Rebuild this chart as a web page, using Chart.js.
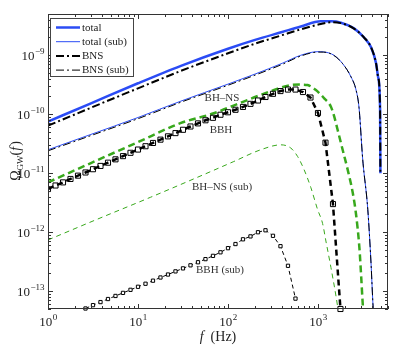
<!DOCTYPE html>
<html>
<head>
<meta charset="utf-8">
<title>Omega_GW background spectrum</title>
<script src="https://cdn.jsdelivr.net/npm/chart.js@4.4.1/dist/chart.umd.min.js"></script>
<style>
  html, body { margin: 0; padding: 0; background: #fff; }
  #wrap { width: 399px; height: 346px; }
</style>
</head>
<body>
<div id="wrap"><canvas id="gw" width="399" height="346"></canvas></div>
<script>
/* =====================================================
   Omega_GW(f) — compact binary background, log-log
   ===================================================== */

// ─── DATA ────────────────────────────────────────────
const totalF     = [1, 3, 10, 30, 100, 200, 400, 645, 1077, 1400, 1800, 2513, 3250, 3890, 4420, 4654, 4900, 4940];
const totalOmega = [7.5e-11, 1.53e-10, 3.35e-10, 6.62e-10, 1.29e-9, 1.82e-9, 2.48e-9, 3.07e-9, 3.75e-9, 3.75e-9, 3.55e-9, 2.85e-9, 2.0e-9, 1.36e-9, 7.3e-10, 4.3e-10, 1.2e-10, 1.0e-11];
const bnsOmega   = [6.4e-11, 1.29e-10, 2.75e-10, 5.43e-10, 1.08e-9, 1.57e-9, 2.19e-9, 2.75e-9, 3.39e-9, 3.63e-9, 3.5e-9, 2.83e-9, 2.0e-9, 1.36e-9, 7.3e-10, 4.3e-10, 1.2e-10, 1.0e-11];

const subF          = [1, 3, 10, 30, 100, 200, 400, 645, 1000, 1150, 1504, 1880, 2328, 2650, 2858, 3143, 3576, 3890, 4070, 4150];
const totalSubOmega = [2.5e-11, 4.55e-11, 8.8e-11, 1.67e-10, 3.24e-10, 4.8e-10, 7.3e-10, 1.0e-9, 1.15e-9, 1.14e-9, 1.0e-9, 7.2e-10, 4.3e-10, 2.57e-10, 1.3e-10, 1.7e-11, 2.45e-12, 2.9e-13, 6.6e-14, 4e-14];
const bnsSubOmega   = [2.4e-11, 4.35e-11, 8.4e-11, 1.6e-10, 3.1e-10, 4.6e-10, 7.0e-10, 9.7e-10, 1.13e-9, 1.13e-9, 9.9e-10, 7.2e-10, 4.3e-10, 2.57e-10, 1.3e-10, 1.7e-11, 2.45e-12, 2.9e-13, 6.6e-14, 4e-14];

const bhnsF     = [1, 3, 10, 29.6, 69.6, 164, 325, 499, 645, 766, 948, 1173, 1393, 1517, 1655, 1880, 2138, 2432, 2650, 2885, 3010, 3143, 3250];
const bhnsOmega = [7.0e-12, 1.49e-11, 3.37e-11, 7.05e-11, 1.04e-10, 1.74e-10, 2.57e-10, 3.12e-10, 3.18e-10, 3.12e-10, 2.57e-10, 1.86e-10, 1.34e-10, 9.1e-11, 5.4e-11, 2.5e-11, 1.15e-11, 4.7e-12, 2.0e-12, 5.5e-13, 1.95e-13, 6.1e-14, 3e-14];

const bhnsSubF     = [1, 3.49, 13.7, 53.9, 116, 231, 386, 499, 593, 701, 834, 990, 1125, 1225, 1393, 1585, 1668, 1750];
const bhnsSubOmega = [7.4e-13, 1.65e-12, 3.9e-12, 9.5e-12, 1.58e-11, 2.5e-11, 3.03e-11, 2.67e-11, 1.93e-11, 1.15e-11, 5.7e-12, 2.43e-12, 1.41e-12, 7.1e-13, 2.53e-13, 8.3e-14, 5e-14, 3e-14];

// BBH curves are sampled on the marker grid (12 per decade)
const bbhF = [1, 1.212, 1.468, 1.778, 2.154, 2.610, 3.162, 3.831, 4.642, 5.623, 6.813, 8.254,
              10, 12.12, 14.68, 17.78, 21.54, 26.10, 31.62, 38.31, 46.42, 56.23, 68.13, 82.54,
              100, 121.2, 146.8, 177.8, 215.4, 261.0, 316.2, 383.1, 464.2, 562.3, 681.3, 825.4,
              1000, 1212, 1468, 1778];
const bbhOmega = [5.4e-12, 6.2e-12, 7.0e-12, 8.0e-12, 9.1e-12, 1.03e-11, 1.17e-11, 1.33e-11, 1.51e-11, 1.72e-11, 1.95e-11, 2.22e-11,
                  2.52e-11, 2.87e-11, 3.26e-11, 3.71e-11, 4.22e-11, 4.79e-11, 5.45e-11, 6.2e-11, 7.0e-11, 7.9e-11, 8.7e-11, 9.8e-11,
                  1.08e-10, 1.19e-10, 1.33e-10, 1.5e-10, 1.71e-10, 1.96e-10, 2.22e-10, 2.47e-10, 2.62e-10, 2.62e-10, 2.38e-10, 1.92e-10,
                  1.05e-10, 3.3e-11, 3.0e-12, 5.0e-14];

const bbhSubF = [2.610, 3.162, 3.831, 4.642, 5.623, 6.813, 8.254, 10, 12.12, 14.68, 17.78, 21.54, 26.10, 31.62, 38.31,
                 46.42, 56.23, 68.13, 82.54, 100, 121.2, 146.8, 177.8, 215.4, 261.0, 316.2, 383.1, 464.2, 562.3];
const bbhSubOmega = [5.1e-14, 5.81e-14, 6.55e-14, 7.38e-14, 8.32e-14, 9.38e-14, 1.057e-13, 1.19e-13, 1.34e-13, 1.51e-13, 1.71e-13, 1.92e-13, 2.17e-13, 2.44e-13, 2.75e-13,
                     3.1e-13, 3.5e-13, 3.98e-13, 4.57e-13, 5.37e-13, 6.31e-13, 7.59e-13, 8.5e-13, 1.0e-12, 1.08e-12, 8.7e-13, 5.8e-13, 2.7e-13, 7.5e-14];

const xDecades = [0, 1, 2, 3];
const yDecades = [-13, -12, -11, -10, -9];

const legendLabels = ['total', 'total (sub)', 'BNS', 'BNS (sub)'];


// ─── STYLE ───────────────────────────────────────────
const SERIF = '"Liberation Serif", "DejaVu Serif", serif';
const BLUE  = '#2b4cf5';
const GREEN = '#38a81c';
const INK   = '#222';
const DASHDOT = [8, 3, 2, 3];

function pts(fs, vs) {
  return fs.map((f, i) => ({ x: f, y: vs[i] }));
}

const base = { pointRadius: 0, fill: false, tension: 0, clip: 0 };


// ─── FRAME / TICKS / TEXT PLUGIN ─────────────────────
function drawPow(ctx, x, y, exp, align) {
  ctx.font = '13px ' + SERIF;
  const wBase = ctx.measureText('10').width;
  ctx.font = '9px ' + SERIF;
  const wExp = ctx.measureText(exp).width;
  let x0 = x;
  if (align === 'center') x0 = x - (wBase + wExp) / 2;
  if (align === 'right')  x0 = x - (wBase + wExp);
  ctx.textAlign = 'left';
  ctx.textBaseline = 'alphabetic';
  ctx.font = '13px ' + SERIF;
  ctx.fillText('10', x0, y);
  ctx.font = '9px ' + SERIF;
  ctx.fillText(exp, x0 + wBase + 0.5, y - 6);
}

function supText(n) {
  return n < 0 ? '\u2212' + Math.abs(n) : String(n);
}

const framePlugin = {
  id: 'frame',
  afterDraw(chart) {
    const ctx = chart.ctx;
    const { left, right, top, bottom } = chart.chartArea;
    const xs = chart.scales.x, ys = chart.scales.y;
    ctx.save();

    // box
    ctx.strokeStyle = '#333';
    ctx.lineWidth = 1;
    ctx.setLineDash([]);
    ctx.strokeRect(Math.round(left) + 0.5, Math.round(top) + 0.5,
                   Math.round(right - left) - 1, Math.round(bottom - top) - 1);

    // ticks, inward on all four sides
    ctx.beginPath();
    for (let d = 0; d <= 3; d++) {
      for (let m = 1; m <= 9; m++) {
        const v = m * Math.pow(10, d);
        if (v < xs.min || v > xs.max) continue;
        const px = Math.round(xs.getPixelForValue(v)) + 0.5;
        const len = m === 1 ? 5 : 3;
        ctx.moveTo(px, bottom); ctx.lineTo(px, bottom - len);
        ctx.moveTo(px, top);    ctx.lineTo(px, top + len);
      }
    }
    for (let d = -14; d <= -9; d++) {
      for (let m = 1; m <= 9; m++) {
        const v = m * Math.pow(10, d);
        if (v < ys.min || v > ys.max) continue;
        const py = Math.round(ys.getPixelForValue(v)) + 0.5;
        const len = m === 1 ? 5 : 3;
        ctx.moveTo(left, py);  ctx.lineTo(left + len, py);
        ctx.moveTo(right, py); ctx.lineTo(right - len, py);
      }
    }
    ctx.stroke();

    // tick labels
    ctx.fillStyle = INK;
    xDecades.forEach(d => {
      drawPow(ctx, xs.getPixelForValue(Math.pow(10, d)), bottom + 17, supText(d), 'center');
    });
    yDecades.forEach(d => {
      drawPow(ctx, left - 4, ys.getPixelForValue(Math.pow(10, d)) + 5, supText(d), 'right');
    });

    // x title
    ctx.textBaseline = 'alphabetic';
    ctx.font = 'italic 14px ' + SERIF;
    const wf = ctx.measureText('f').width;
    ctx.font = '14px ' + SERIF;
    const wr = ctx.measureText('  (Hz)').width;
    let tx = (left + right) / 2 - (wf + wr) / 2;
    ctx.textAlign = 'left';
    ctx.font = 'italic 14px ' + SERIF;
    ctx.fillText('f', tx, 341);
    ctx.font = '14px ' + SERIF;
    ctx.fillText('  (Hz)', tx + wf, 341);

    // y title (rotated)
    ctx.save();
    ctx.translate(20, (top + bottom) / 2);
    ctx.rotate(-Math.PI / 2);
    const parts = [
      { t: '\u03A9', f: '14px ' + SERIF, dy: 0 },
      { t: 'GW', f: '9px ' + SERIF, dy: 3 },
      { t: '(', f: '14px ' + SERIF, dy: 0 },
      { t: 'f', f: 'italic 14px ' + SERIF, dy: 0 },
      { t: ')', f: '14px ' + SERIF, dy: 0 },
    ];
    let tw = 0;
    parts.forEach(p => { ctx.font = p.f; p.w = ctx.measureText(p.t).width; tw += p.w; });
    let cx = -tw / 2;
    parts.forEach(p => { ctx.font = p.f; ctx.fillText(p.t, cx, p.dy); cx += p.w + (p.t === 'f' ? 1 : 0); });
    ctx.restore();

    // curve annotations
    ctx.font = '11px ' + SERIF;
    ctx.fillStyle = '#333';
    ctx.textAlign = 'center';
    ctx.textBaseline = 'middle';
    ctx.fillText('BH\u2013NS', 222, 98);
    ctx.fillText('BBH', 221, 130);
    ctx.fillText('BH\u2013NS (sub)', 222, 187);
    ctx.fillText('BBH (sub)', 220, 270);

    // legend box
    ctx.fillStyle = '#fff';
    ctx.fillRect(51, 19, 82, 58);
    ctx.strokeStyle = '#444';
    ctx.lineWidth = 1;
    ctx.strokeRect(50.5, 18.5, 83, 58);
    const rows = [
      { c: BLUE, w: 2.5, dash: [] },
      { c: BLUE, w: 1, dash: [] },
      { c: '#000', w: 2, dash: DASHDOT },
      { c: '#000', w: 1, dash: DASHDOT },
    ];
    rows.forEach((r, i) => {
      const y = 27.5 + i * 14.2;
      ctx.beginPath();
      ctx.strokeStyle = r.c;
      ctx.lineWidth = r.w;
      ctx.setLineDash(r.dash);
      ctx.moveTo(56, y); ctx.lineTo(80, y);
      ctx.stroke();
      ctx.setLineDash([]);
      ctx.fillStyle = INK;
      ctx.textAlign = 'left';
      ctx.textBaseline = 'middle';
      ctx.font = '11px ' + SERIF;
      ctx.fillText(legendLabels[i], 82, y + 0.5);
    });

    ctx.restore();
  }
};


// ─── CHART ───────────────────────────────────────────
const datasets = [
  { ...base, label: 'BNS', data: pts(totalF, bnsOmega), borderColor: '#000', borderWidth: 2,
    borderDash: DASHDOT, cubicInterpolationMode: 'monotone', order: 0 },
  { ...base, label: 'total', data: pts(totalF, totalOmega), borderColor: BLUE, borderWidth: 2.5,
    cubicInterpolationMode: 'monotone', order: 1 },
  { ...base, label: 'BNS (sub)', data: pts(subF, bnsSubOmega), borderColor: '#000', borderWidth: 1,
    borderDash: DASHDOT, cubicInterpolationMode: 'monotone', order: 2 },
  { ...base, label: 'total (sub)', data: pts(subF, totalSubOmega), borderColor: BLUE, borderWidth: 1,
    cubicInterpolationMode: 'monotone', order: 3 },
  { ...base, label: 'BH-NS', data: pts(bhnsF, bhnsOmega), borderColor: GREEN, borderWidth: 2.5,
    borderDash: [7, 4], cubicInterpolationMode: 'monotone', order: 5 },
  { ...base, label: 'BH-NS (sub)', data: pts(bhnsSubF, bhnsSubOmega), borderColor: GREEN, borderWidth: 1,
    borderDash: [5, 4], cubicInterpolationMode: 'monotone', order: 6 },
  { ...base, label: 'BBH', data: pts(bbhF, bbhOmega), borderColor: '#000', borderWidth: 2.5,
    borderDash: [6, 4], pointStyle: 'rect', pointRadius: 3.6, pointBorderWidth: 1,
    pointBorderColor: '#000', pointBackgroundColor: 'rgba(0,0,0,0)', clip: { left: 0, top: 0, right: 0, bottom: 4 },
    order: 4 },
  { ...base, label: 'BBH (sub)', data: pts(bbhSubF, bbhSubOmega), borderColor: '#000', borderWidth: 1,
    borderDash: [4, 3], pointStyle: 'rect', pointRadius: 2.3, pointBorderWidth: 1,
    pointBorderColor: '#000', pointBackgroundColor: '#fff', clip: { left: 0, top: 0, right: 0, bottom: 4 },
    order: 7 },
];

new Chart(document.getElementById('gw'), {
  type: 'line',
  data: { datasets },
  options: {
    responsive: false,
    animation: false,
    layout: { padding: { left: 48, top: 14, right: 11, bottom: 37 } },
    plugins: { legend: { display: false }, tooltip: { enabled: false } },
    scales: {
      x: { type: 'logarithmic', min: 1, max: 6000, display: false },
      y: { type: 'logarithmic', min: 5e-14, max: 5e-9, display: false },
    },
  },
  plugins: [framePlugin],
});
</script>
</body>
</html>
